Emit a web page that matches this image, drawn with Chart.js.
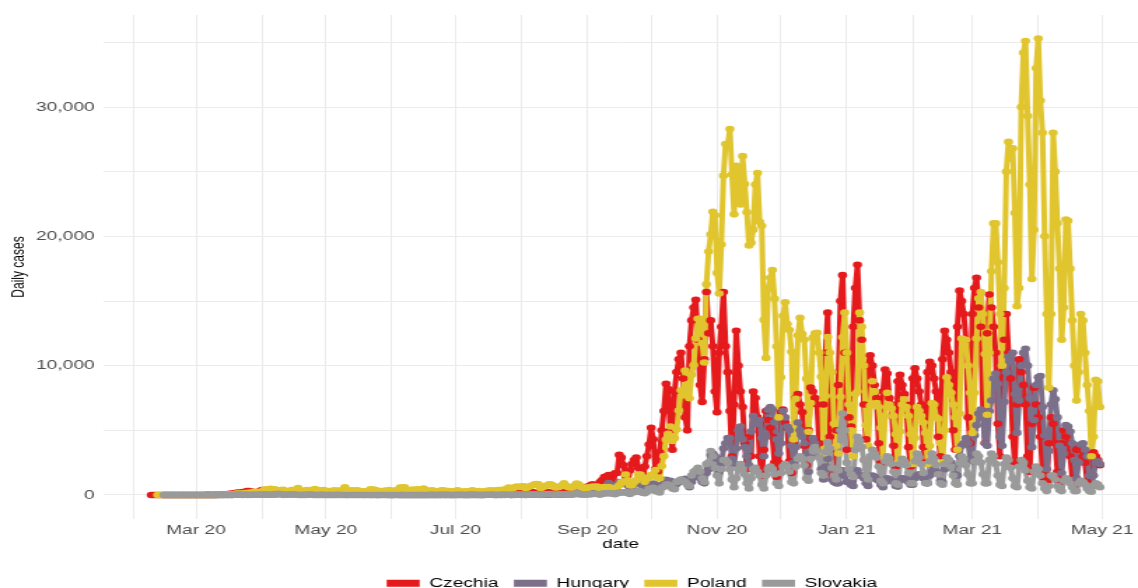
<!DOCTYPE html>
<html>
<head>
<meta charset="utf-8">
<script src="https://cdn.jsdelivr.net/npm/chart.js@4.4.1/dist/chart.umd.min.js"></script>
<style>
  html, body { margin: 0; padding: 0; background: #fff; overflow: hidden; }
  /* the figure is drawn narrow and stretched sideways like the source image */
  #chart { display: block; width: 1138px !important; height: 600px !important; }
</style>
</head>
<body>
<canvas id="chart" width="813" height="600"></canvas>
<script>
// Daily cases, one value per day starting 2020-02-09 (null = series not started yet)
const startDate = '2020-02-09';
const countries = ['Czechia', 'Hungary', 'Poland', 'Slovakia'];
const colors = ['#e41a1c', '#7b6f8a', '#e0c52f', '#9a9a9a'];

const czechia = [
  0,0,0,0,0,0,0, 0,0,0,0,0,0,0, 0,0,0,0,0,0,0,
  3,0,0,2,0,7,7, 7,9,8,21,31,23,50, 45,80,99,92,140,171,183,
  115,221,216,304,306,262,237, 172,241,274,375,253,264,176, 109,214,180,235,179,143,90,
  81,126,127,103,118,100,66, 51,99,73,84,109,55,36, 28,89,41,79,59,34,22,
  22,64,66,52,38,25,27, 19,64,43,50,85,51,41, 16,52,60,48,52,54,42,
  39,63,77,45,45,38,33, 27,100,90,72,88,70,59, 37,52,51,68,50,65,60,
  32,72,80,99,160,121,79, 68,125,205,168,260,230,147, 69,100,145,127,124,98,53,
  62,75,100,97,120,140,60, 46,83,120,160,129,124,90, 60,159,201,225,195,226,170,
  148,220,280,243,277,166,129, 105,195,231,254,207,188,150, 93,166,218,239,252,194,148,
  108,244,284,307,285,302,160, 124,376,475,511,481,413,233, 231,458,650,636,803,799,500,
  375,1000,1164,1382,1447,1541,900, 600,1680,1700,3100,2900,2300,1500,
  800,1900,2400,2700,2900,2100,1200, 900,2200,3000,3900,5200,4300,2000,
  1800,3300,5000,6500,8600,8200,5000, 3500,8000,9500,10500,11000,9000,6000,
  5000,11500,13500,14500,15100,12000,8500, 7200,10500,15700,12500,13500,11500,8000,
  6400,11000,13000,15700,11500,9500,6500, 3000,7000,12700,10000,8000,6800,4000,
  2000,4500,3000,8000,7500,6000,3000, 1500,3500,6500,5800,5200,4500,2500,
  1400,2500,6400,6600,5600,5200,2600, 1700,4000,7500,7800,7000,6400,3800,
  2300,5000,8300,8000,7500,7000,4000, 3000,7000,11000,14100,4500,1500,1500,
  5000,8500,15000,17000,11000,3500,6000, 5300,13000,16000,17800,13500,12000,7000,
  4300,10000,10800,10000,8500,7500,4000, 2500,8000,9700,9400,7500,7000,3800,
  2200,8800,9300,8500,7800,7000,3700, 2200,9000,9800,9000,8000,7000,3700,
  2500,9500,10300,10000,9000,8000,4500, 3000,10500,12700,12000,11000,9500,5000,
  3500,13000,15800,15000,14000,12000,6000, 4000,14000,16000,16800,14500,13000,6500,
  4000,12500,15500,14500,13000,11000,5500, 3000,9500,12000,14000,11000,9000,4500,
  2500,7000,10500,9500,8500,7000,3000, 1800,5500,8300,7000,6000,4500,2000,
  1200,1000,4000,6000,5500,4000,1800, 1000,4000,5000,4500,4000,3000,1300,
  800,3500,3800,3500,3000,2500,1000, 600,3200,3300,3000,2700,2300
];

const hungary = [
  null,null,null,null,null,null,0, 0,0,0,0,0,0,0, 0,0,0,0,0,0,0,
  0,0,0,2,0,0,5, 0,2,2,1,3,3,3, 2,7,11,8,15,15,18,
  36,20,17,18,38,35,43, 39,45,55,33,60,38,60, 55,37,73,78,210,111,82,
  85,49,58,73,76,70,113, 47,39,50,92,77,102,82, 51,46,20,52,39,30,25,
  36,17,15,39,22,24,20, 18,13,22,25,17,25,35, 23,16,13,18,21,12,11,
  18,8,8,15,15,14,10, 4,2,3,16,13,8,1, 5,2,4,7,7,8,8,
  4,2,3,6,7,9,4, 6,3,4,7,12,7,5, 13,2,6,4,5,12,9,
  8,5,3,7,5,9,11, 8,6,6,11,20,30,16, 11,7,10,8,10,12,21,
  17,8,13,12,16,25,12, 16,10,20,28,22,31,23, 18,13,19,14,24,27,21,
  29,17,31,32,38,52,45, 47,41,60,76,97,133,105, 139,113,132,292,364,510,459,
  430,241,449,476,676,916,794, 672,507,626,1000,1000,869,940,
  752,477,658,794,922,1070,906, 655,380,616,817,705,880,807,
  650,400,650,900,1182,1000,1100, 850,550,850,1000,1150,1100,1250,
  900,600,1000,1400,1600,1500,1300, 1000,900,1700,2000,3100,3200,3000,
  2800,1800,2300,3600,4000,4400,4400, 2800,2400,3600,5000,5300,4300,3700,
  3000,2300,4900,6100,5800,5500,5800, 4400,3000,4500,6600,6800,6600,5600,
  4300,3200,4000,6500,6000,5300,5000, 3800,2500,3700,5600,5000,4500,4000,
  3000,1800,2900,4400,4000,3400,3000, 2000,1200,2200,2800,2000,1200,1000,
  900,900,1600,1900,1500,1000,1000, 800,700,1600,1900,1500,1500,1300,
  900,700,1300,1500,1400,1200,1100, 800,600,1000,1300,1200,1100,1000,
  700,650,1100,1300,1300,1200,1000, 800,800,1300,1500,1600,1500,1300,
  1000,900,1500,1800,2000,1800,1600, 1100,1000,2000,2400,2600,2500,2300,
  1600,1500,3000,3800,4000,4400,4000, 2800,2600,4600,5400,6300,6600,6000,
  4000,3800,6500,7300,9000,9400,8600, 4500,3800,7200,9500,10700,10300,11000,
  7800,4800,7300,10000,11000,11300,10000, 7500,3700,5800,8500,9100,9200,6800,
  4600,2000,3400,7000,8100,7400,6000, 3800,1700,3200,5400,5300,4900,4000,
  2700,1300,2500,3900,4000,3500,3000, 1500,700,1500,2500,2600,2400
];

const poland = [
  null,null,null,0,0,0,0, 0,0,0,0,0,0,0, 0,0,0,0,0,0,0,
  0,0,0,1,0,0,4, 6,6,5,9,11,20,17, 21,52,27,33,58,110,111,
  98,115,152,150,170,168,249, 224,193,256,243,392,437,244, 475,311,435,357,370,380,401,
  318,260,270,380,380,336,545, 263,306,263,380,308,381,285, 460,293,344,339,380,263,303,
  304,220,356,307,336,330,316, 595,346,340,319,362,279,359, 269,292,258,266,312,443,416,
  395,251,318,270,285,353,263, 380,292,230,360,361,576,575, 599,344,282,395,400,376,440,
  314,407,506,375,314,301,363, 311,238,193,342,367,319,305, 303,233,262,300,371,263,243,
  262,290,233,299,358,276,258, 299,236,239,306,287,358,321, 337,319,375,380,334,418,443,
  584,443,512,615,657,615,658, 680,512,600,680,726,809,843, 832,548,600,680,726,830,811,
  702,587,597,639,730,903,711, 594,585,576,722,887,809,594, 588,450,550,597,640,642,656,
  636,449,376,607,602,605,558, 506,396,600,757,974,1002,1587,
  1136,758,744,1002,1136,1587,1584, 1306,1016,1326,1306,1552,1587,1934,
  1350,1300,2236,3003,4280,4739,5300, 4178,4394,5068,6526,8099,7705,9622,
  8536,7482,9291,10040,12107,13632,13628, 11742,10241,16300,18820,20156,21897,21629,
  17171,15578,19364,24692,27143,27086,28300, 24785,21700,25454,22683,22464,26200,24051,
  21854,19300,19500,20500,24000,24900,21130, 20816,13539,10600,15922,16800,17400,15178,
  11483,6000,9105,13855,14900,13210,12756, 11072,4300,7439,12344,13700,12440,11996,
  8977,4896,7108,12168,12500,12542,11006, 9150,3208,7659,12217,11000,9500,5500,
  3800,3211,7600,12197,14100,11000,7000, 5000,3000,7800,8000,14100,13000,10000,
  5400,3800,6900,8800,8000,7100,6800, 5200,2900,6100,7900,7000,6700,6100,
  4700,2500,4900,7000,7400,6800,6100, 4700,2400,4400,6800,6500,6100,5600,
  4800,2400,3800,7100,7000,6000,5900, 4000,2500,5000,9100,8500,7900,7000,
  6000,3500,6300,12100,12000,12000,10000, 7900,4800,7900,12100,15200,15700,14000,
  10900,6200,11000,17300,21000,21000,18000, 14000,10000,16000,25000,27300,26000,26800,
  21800,14600,16000,30000,34200,35100,29300, 24000,16700,20500,33000,35300,30500,28000,
  20000,14000,8300,14000,28000,25000,21000, 17500,12000,14500,21300,21200,17500,13500,
  10000,7300,9500,14000,13500,11000,8500, 6500,3000,4500,8900,8800,6800
];

const slovakia = [
  null,null,null,null,null,null,0, 0,0,0,0,0,0,0, 0,0,0,0,0,0,0,
  0,0,0,0,0,1,2, 1,2,2,1,3,11,10, 17,9,14,8,14,20,48,
  32,0,34,12,12,24,22, 22,14,37,37,37,50,21, 15,34,66,29,101,48,11,
  16,32,22,45,55,21,11, 5,10,9,10,25,28,12, 2,4,6,13,6,4,4,
  6,5,4,9,12,4,1, 3,2,2,3,2,4,2, 0,4,0,3,1,2,0,
  0,1,1,1,1,2,0, 1,0,1,1,3,2,0, 0,1,0,1,3,1,1,
  0,4,5,3,3,11,10, 9,4,16,9,14,8,12, 8,2,5,19,11,13,15,
  10,3,6,28,27,15,11, 10,5,7,15,12,14,25, 15,5,22,14,23,25,21,
  14,9,15,26,34,31,19, 16,7,18,34,33,35,34, 19,15,63,53,59,72,60,
  22,21,40,73,56,61,49, 26,20,61,67,123,59,37, 40,20,47,67,66,93,100,
  63,30,86,137,136,144,132, 100,66,144,193,184,217,200,
  150,80,230,208,252,327,239, 180,132,250,500,400,552,315,
  280,200,555,637,800,800,700, 509,450,1000,1100,1200,1100,1000,
  800,700,1500,1800,1900,2100,1800, 1300,1000,2400,2500,3400,3000,2100,
  1500,900,2000,2700,2700,2500,2000, 1200,600,1300,2000,2400,2000,1600,
  900,500,1300,2000,2100,1800,1500, 800,500,1500,2000,2200,2000,1600,
  900,700,1700,2200,2400,2200,1800, 1000,900,2200,2800,3000,2800,2300,
  1300,1100,2800,3500,3700,3400,2900, 1700,1500,3300,4100,3600,2100,1500,
  1200,1900,5000,6300,5000,2500,2000, 1600,1400,3500,4500,4200,3700,2700,
  1500,1200,3000,3500,3200,2900,2200, 1100,900,2600,3000,2800,2400,1800,
  900,800,2400,2800,2600,2300,1700, 900,900,2600,3200,2900,2400,1700,
  900,900,2600,3200,2800,2300,1600, 900,800,2400,2900,2700,2200,1500,
  900,800,2500,3000,2800,2300,1600, 900,900,2600,3200,3000,2500,1600,
  900,900,2700,3200,3000,2400,1500, 800,700,2400,2900,2700,2100,1300,
  700,600,2200,2700,2500,1900,1100, 600,500,1800,2200,2000,1500,900,
  500,300,700,1500,1500,1200,700, 400,300,1100,1300,1200,900,600,
  300,300,900,1100,1000,800,500, 300,250,700,900,800,600
];

// Axis ticks: monthly grid, labels every second month
const monthTicks = ['2020-02-01','2020-03-01','2020-04-01','2020-05-01','2020-06-01','2020-07-01',
  '2020-08-01','2020-09-01','2020-10-01','2020-11-01','2020-12-01','2021-01-01',
  '2021-02-01','2021-03-01','2021-04-01','2021-05-01'];
const monthLabels = ['', 'Mar 20', '', 'May 20', '', 'Jul 20', '', 'Sep 20', '', 'Nov 20', '',
  'Jan 21', '', 'Mar 21', '', 'May 21'];
const yTicks = [0, 5000, 10000, 15000, 20000, 25000, 30000, 35000];
const yLabels = ['0', '', '10,000', '', '20,000', '', '30,000', ''];

// days counted from 2020-03-01
const dayOf = (s) => (Date.parse(s) - Date.parse('2020-03-01')) / 86400000;
const firstDay = dayOf(startDate);
const toPoints = (vals) => vals.map((v, i) => ({ x: firstDay + i, y: v }));

const series = [czechia, hungary, poland, slovakia];

// lines first (Slovakia on top), then all points above the lines
const lineSets = series.map((vals, i) => ({
  label: countries[i],
  data: toPoints(vals),
  borderColor: colors[i],
  backgroundColor: colors[i],
  borderWidth: 4,
  borderJoinStyle: 'round',
  pointRadius: 0,
  tension: 0,
  order: 8 - i
}));
const pointSets = series.map((vals, i) => ({
  label: countries[i] + ' points',
  data: toPoints(vals),
  showLine: false,
  pointRadius: 3.3,
  pointBorderWidth: 0,
  pointBackgroundColor: colors[i],
  pointBorderColor: colors[i],
  order: 4 - i
}));

// ggplot centres the legend on the full (wider) figure
const legendShift = {
  id: 'legendShift',
  afterLayout(chart) {
    const lg = chart.legend;
    const dx = 451.4 - (lg.left + lg.right) / 2;
    lg.left += dx;
    lg.right += dx;
  }
};

Chart.defaults.font.family = "'Liberation Sans', Arial, sans-serif";

new Chart(document.getElementById('chart'), {
  type: 'line',
  data: { datasets: [...lineSets, ...pointSets] },
  plugins: [legendShift],
  options: {
    responsive: false,
    animation: false,
    events: [],
    layout: { autoPadding: false, padding: { top: 15, left: 0, right: 0, bottom: 0 } },
    scales: {
      x: {
        type: 'linear',
        min: -43.7,
        max: 442.9,
        afterBuildTicks: (s) => { s.ticks = monthTicks.map(d => ({ value: dayOf(d) })); },
        afterFit: (s) => { s.height = 46.3; },
        grid: { color: '#ebebeb', lineWidth: 1, drawTicks: false },
        border: { display: false },
        ticks: {
          autoSkip: false,
          maxRotation: 0,
          padding: 3,
          color: '#4d4d4d',
          font: { size: 13.7 },
          callback: (v, i) => monthLabels[i]
        },
        title: { display: true, text: 'date', color: '#000', font: { size: 13.5 }, padding: { top: 0, bottom: 13.2 } }
      },
      y: {
        min: -1856,
        max: 37114,
        afterBuildTicks: (s) => { s.ticks = yTicks.map(v => ({ value: v })); },
        afterFit: (s) => { s.width = 73.6; },
        grid: { color: '#ebebeb', lineWidth: 1, drawTicks: false },
        border: { display: false },
        ticks: {
          padding: 6,
          color: '#4d4d4d',
          font: { size: 13.7 },
          callback: (v, i) => yLabels[i]
        },
        title: { display: true, text: 'Daily cases', color: '#000', font: { size: 12 }, padding: { top: 6.4, bottom: 0 } }
      }
    },
    plugins: {
      tooltip: { enabled: false },
      legend: {
        position: 'bottom',
        labels: {
          boxWidth: 23.6,
          boxHeight: 7,
          padding: 11,
          color: '#000',
          font: { size: 13.7 },
          generateLabels: () => countries.map((c, i) => ({
            text: c, fillStyle: colors[i], strokeStyle: colors[i], lineWidth: 0, hidden: false, datasetIndex: i
          }))
        }
      }
    }
  }
});
</script>
</body>
</html>
